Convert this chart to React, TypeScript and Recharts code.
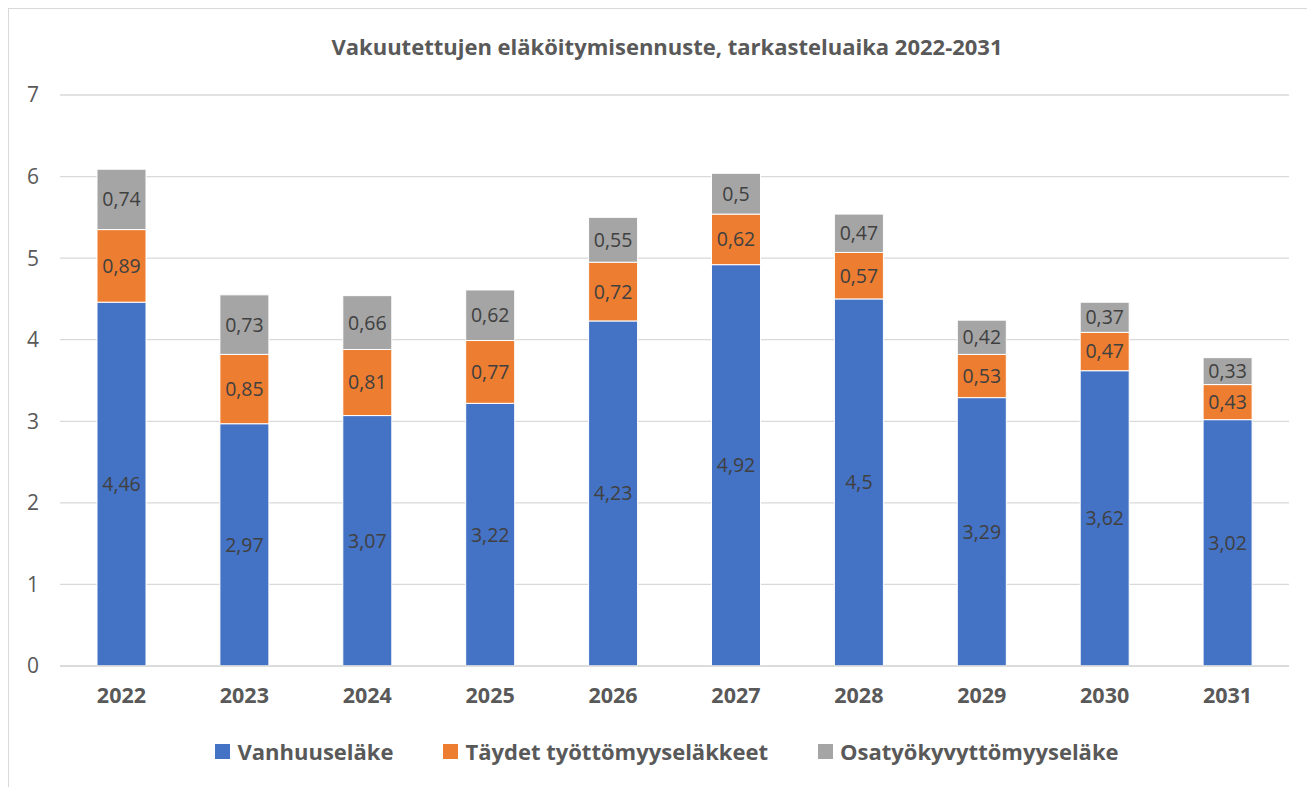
import React from "react";
import { BarChart, Bar, XAxis, YAxis, CartesianGrid, LabelList } from "recharts";

const years = ["2022", "2023", "2024", "2025", "2026", "2027", "2028", "2029", "2030", "2031"];
const vanhuus = [4.46, 2.97, 3.07, 3.22, 4.23, 4.92, 4.5, 3.29, 3.62, 3.02];
const tyottomyys = [0.89, 0.85, 0.81, 0.77, 0.72, 0.62, 0.57, 0.53, 0.47, 0.43];
const osatyokyvyttomyys = [0.74, 0.73, 0.66, 0.62, 0.55, 0.5, 0.47, 0.42, 0.37, 0.33];
const yTicks = [0, 1, 2, 3, 4, 5, 6, 7];

const seriesNames = ["Vanhuuseläke", "Täydet työttömyyseläkkeet", "Osatyökyvyttömyyseläke"];
const colors = ["#4472C4", "#ED7D31", "#A5A5A5"];
const title = "Vakuutettujen eläköitymisennuste, tarkasteluaika 2022-2031";

const data = years.map((y, i) => ({
  year: y,
  a: vanhuus[i],
  b: tyottomyys[i],
  c: osatyokyvyttomyys[i],
}));

const FONT = "'Open Sans', sans-serif";
const fmt = (v: any) => String(v).replace(".", ",");

export default function App() {
  const W = 1306;
  const H = 778;
  return (
    <div
      style={{
        position: "relative",
        width: W,
        height: H,
        borderLeft: "1px solid #d9d9d9",
        borderTop: "1px solid #d9d9d9",
        background: "#fff",
      }}
    >
      <div
        style={{
          position: "absolute",
          top: 22,
          left: 0,
          width: 1316,
          textAlign: "center",
          fontFamily: FONT,
          fontWeight: 700,
          fontSize: 22,
          color: "#595959",
          whiteSpace: "nowrap",
        }}
      >
        {title}
      </div>
      <BarChart
        width={W}
        height={H}
        data={data}
        margin={{ top: 86, right: 26, bottom: 0, left: 0 }}
        barSize={49}
      >
        <CartesianGrid vertical={false} stroke="#d9d9d9" strokeWidth={1.3} />
        <XAxis
          dataKey="year"
          axisLine={{ stroke: "#d9d9d9", strokeWidth: 1.3 }}
          tickLine={false}
          height={121}
          tick={{ fill: "#595959", fontFamily: FONT, fontWeight: 700, fontSize: 21.5, dy: 14 }}
          interval={0}
        />
        <YAxis
          width={51}
          domain={[0, 7]}
          ticks={yTicks}
          axisLine={false}
          tickLine={false}
          tick={{ fill: "#595959", fontFamily: FONT, fontSize: 21, dx: -13 }}
        />
        <Bar dataKey="a" stackId="s" fill={colors[0]} stroke="#fff" strokeWidth={1} isAnimationActive={false}>
          <LabelList dataKey="a" position="center" formatter={fmt} fill="#404040" fontFamily={FONT} fontSize={19.5} />
        </Bar>
        <Bar dataKey="b" stackId="s" fill={colors[1]} stroke="#fff" strokeWidth={1} isAnimationActive={false}>
          <LabelList dataKey="b" position="center" formatter={fmt} fill="#404040" fontFamily={FONT} fontSize={19.5} />
        </Bar>
        <Bar dataKey="c" stackId="s" fill={colors[2]} stroke="#fff" strokeWidth={1} isAnimationActive={false}>
          <LabelList dataKey="c" position="center" formatter={fmt} fill="#404040" fontFamily={FONT} fontSize={19.5} />
        </Bar>
      </BarChart>
      <div
        style={{
          position: "absolute",
          top: 727,
          left: 0,
          width: 1316,
          display: "flex",
          justifyContent: "center",
          alignItems: "center",
          gap: 50,
          fontFamily: FONT,
          fontWeight: 700,
          fontSize: 22,
          color: "#595959",
          whiteSpace: "nowrap",
        }}
      >
        {seriesNames.map((n, i) => (
          <div key={n} style={{ display: "flex", alignItems: "center" }}>
            <span style={{ width: 15, height: 15, background: colors[i], display: "inline-block", marginRight: 7 }} />
            <span>{n}</span>
          </div>
        ))}
      </div>
    </div>
  );
}
